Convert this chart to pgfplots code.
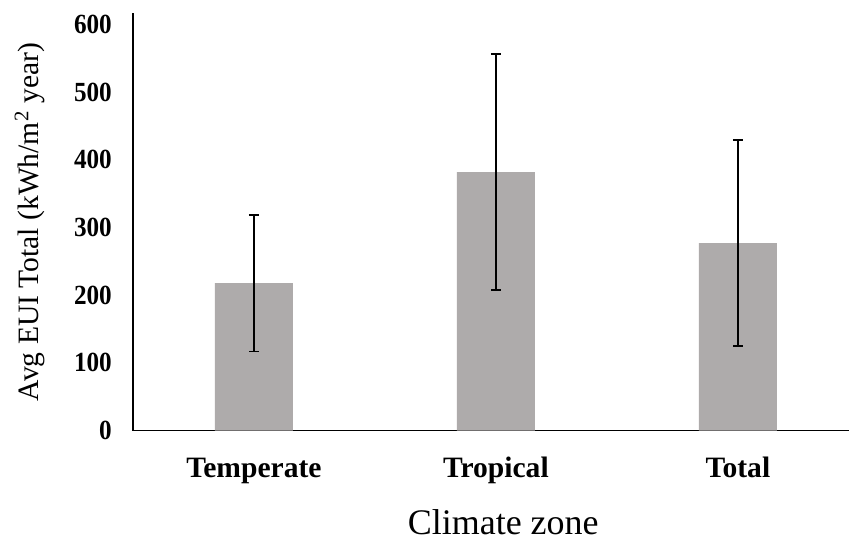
\documentclass[border=0pt]{standalone}
\usepackage{pgfplots}
\pgfplotsset{compat=1.18}
\usepackage{fontspec}
\setmainfont{Liberation Serif}
\definecolor{bargray}{HTML}{AEABAB}
\begin{document}
\begin{tikzpicture}
\path (-66.5pt,-53.5pt) rectangle (358.5pt,215.5pt);
\begin{axis}[
  at={(0,0)}, anchor=south west,
  scale only axis,
  width=358.5pt, height=209pt,
  xmin=-0.5, xmax=2.46,
  ymin=0, ymax=617,
  axis x line=bottom, axis y line=left,
  axis line style={-, line width=0.8pt, black},
  xtick={0,1,2},
  xticklabels={Temperate,Tropical,Total},
  ytick={0,100,200,300,400,500,600},
  major tick length=0pt,
  /pgf/number format/assume math mode=true,
  yticklabel style={font=\fontsize{12.6}{13}\selectfont\bfseries, xshift=-7pt, yscale=1.1},
  xticklabel style={font=\fontsize{14.8}{16}\selectfont\bfseries, text height=10.5pt, text depth=3.5pt, yshift=-9.5pt},
  xlabel={Climate zone},
  ylabel={Avg EUI Total (kWh/m\textsuperscript{2} year)},
  xlabel style={font=\fontsize{18}{20}\selectfont, at={(axis description cs:0.517,-0.22)}, anchor=center},
  ylabel style={font=\fontsize{14.8}{16}\selectfont, at={(axis description cs:-0.1437,0.5)}, anchor=center},
  clip=false,
]
\addplot[ybar, bar width=39pt, fill=bargray, draw=none,
  error bars/.cd, y dir=both, y explicit,
  error bar style={line width=0.9pt, black},
  error mark options={line width=0.9pt, mark size=2.5pt, black, rotate=90}]
  coordinates {
    (0,218) +- (0,101)
    (1,382) +- (0,174)
    (2,277) +- (0,152)
  };
\end{axis}
\end{tikzpicture}
\end{document}
